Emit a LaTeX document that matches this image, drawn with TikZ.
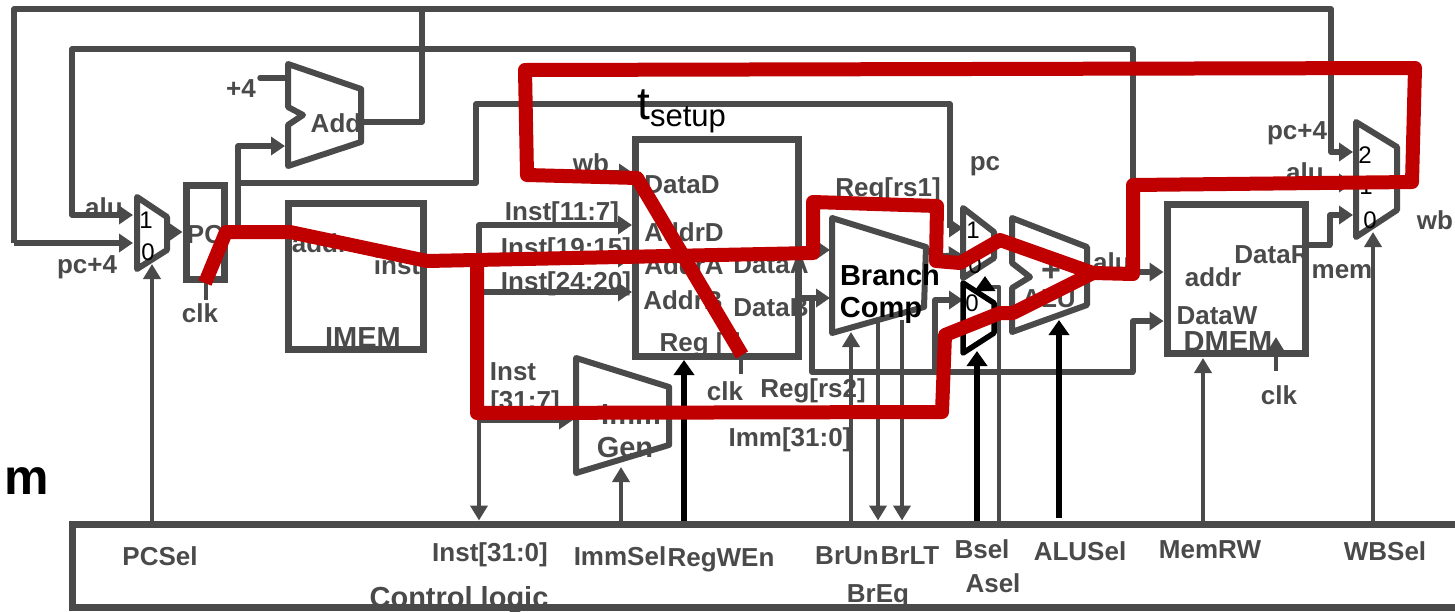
\documentclass[tikz,border=0pt]{standalone}
\usepackage{fontspec}
\setmainfont{Liberation Sans}
\usepackage{xcolor}
\usetikzlibrary{arrows.meta,shadows}
\definecolor{wiregray}{HTML}{4A4A4A}
\definecolor{pathred}{HTML}{C00000}
\tikzset{
  wire/.style={draw=wiregray,line width=5.5pt,line join=round,line cap=round},
  ctlwire/.style={draw=wiregray,line width=4.5pt,line join=round},
  arrowwire/.style={wire,line cap=butt,-{Triangle[length=14pt,width=18pt,fill=wiregray]}},
  ctlarrow/.style={ctlwire,-{Triangle[length=15pt,width=17pt,fill=wiregray]}},
  blackwire/.style={draw=black,line width=5.5pt,-{Triangle[length=15pt,width=20pt,fill=black]}},
  blockbox/.style={draw=wiregray,line width=7pt,inner sep=0pt},
  muxshape/.style={draw=wiregray,fill=white,line width=6pt,line join=round,
    drop shadow={shadow xshift=1.5pt,shadow yshift=-1.5pt,opacity=0.3}},
  redpath/.style={draw=pathred,line width=14pt,line join=round,line cap=butt},
  lab/.style={text=wiregray,font=\fontsize{26}{30}\selectfont\bfseries,inner sep=0pt},
  biglab/.style={text=wiregray,font=\fontsize{29}{32}\selectfont\bfseries,inner sep=0pt},
  blacklab/.style={text=black,font=\fontsize{29}{32}\selectfont\bfseries,inner sep=0pt},
  muxlab/.style={text=black,font=\fontsize{24}{28}\selectfont,inner sep=0pt},
}
\begin{document}
\begin{tikzpicture}[x=1pt,y=-1pt]
  \useasboundingbox (0,0) rectangle (1455,611);
  % pins
  \coordinate (pcin1) at (133,215);
  \coordinate (pcin0) at (133,243);
  \coordinate (pcout) at (167,232);
  \coordinate (pcsel) at (152,264);
  \coordinate (pcq) at (238,227);
  \coordinate (pcclk) at (206,300);
  \coordinate (pcfork) at (238,183);
  \coordinate (addin) at (285,146);
  \coordinate (addfour) at (260,78);
  \coordinate (addin2) at (287,78);
  \coordinate (addout) at (362,122);
  \coordinate (cornerd) at (14,9);
  \coordinate (cornerc) at (72,49);
  \coordinate (cornere) at (1133,49);
  \coordinate (cornerf) at (1331,9);
  \coordinate (addtop) at (422,9);
  \coordinate (instout) at (479,258);
  \coordinate (instup) at (479,225);
  \coordinate (instb) at (479,292);
  \coordinate (instc) at (479,420);
  \coordinate (wbd) at (633,173);
  \coordinate (wbs) at (600,173);
  \coordinate (immin) at (573,420);
  \coordinate (immsel) at (621,467);
  \coordinate (pctop) at (476,104);
  \coordinate (pctopb) at (950,104);
  \coordinate (regclk) at (741,374);
  \coordinate (regwen) at (684,360);
  \coordinate (compa) at (830,250);
  \coordinate (compb) at (830,298);
  \coordinate (compun) at (851,332);
  \coordinate (complt) at (878,320);
  \coordinate (compeq) at (902,320);
  \coordinate (rsfork) at (812,298);
  \coordinate (rsbus) at (812,372);
  \coordinate (rsbusr) at (1133,372);
  \coordinate (rsbusm) at (935,372);
  \coordinate (muxa1) at (963,228);
  \coordinate (muxa0) at (963,255);
  \coordinate (muxas) at (940,256);
  \coordinate (muxb0) at (963,300);
  \coordinate (bsel) at (977,351);
  \coordinate (aselup) at (999,287);
  \coordinate (aselin) at (985,287);
  \coordinate (aseltip) at (985,276);
  \coordinate (aluout) at (1088,272);
  \coordinate (alusel) at (1059,320);
  \coordinate (alubase) at (1059,518);
  \coordinate (dmemw) at (1133,321);
  \coordinate (memsel) at (1203,358);
  \coordinate (dmclka) at (1276,371);
  \coordinate (dmclkb) at (1276,337);
  \coordinate (memout) at (1330,245);
  \coordinate (wbin2) at (1353,152);
  \coordinate (wbin1) at (1353,183);
  \coordinate (wbs1) at (1335,183);
  \coordinate (wbin0) at (1353,215);
  \coordinate (wbsel) at (1373,232);
  % blocks
  \node[biglab] (lctrl) at (459,600) {Control logic};
  \node[blockbox,minimum width=38pt,minimum height=94pt] (pc) at (205,232) {};
  \node[blockbox,minimum width=135pt,minimum height=146pt] (imem) at (356,276) {};
  \node[blockbox,minimum width=163pt,minimum height=217pt] (regs) at (717,248) {};
  \node[blockbox,minimum width=138pt,minimum height=149pt] (dmem) at (1236,279) {};
  \node[blockbox,minimum width=1400pt,minimum height=83pt] (ctrl) at (772,565.5) {};
  % feedback wires
  \draw[arrowwire] (pcin0 -| cornerd) -- (cornerd) -- (cornerf) |- (wbin2);
  \draw[arrowwire] (pcin0 -| cornerd) -- (pcin0);
  \draw[arrowwire] (aluout -| cornere) -- (cornere) -- (cornerc) |- (pcin1);
  \draw[wire] (addout) -| (addtop);
  \draw[wire] (addfour) -- (addin2);
  \draw[arrowwire] (pcout) -- (pc.west);
  \draw[arrowwire] (pcq) |- (addin);
  \draw[arrowwire] (pcfork) -| (pctop) -- (pctopb) |- (muxa1);
  % instruction wires
  \draw[wire] (imem.east |- instout) -- (instout);
  \draw[arrowwire] (instc) -- (instup) -- (regs.west |- instup);
  \draw[arrowwire] (instout) -- (regs.west |- instout);
  \draw[arrowwire] (instb) -- (regs.west |- instb);
  \draw[arrowwire] (instc) -- (immin);
  \draw[ctlarrow] (instc) -- (ctrl.north -| instc);
  \draw[arrowwire] (wbs) -- (wbd);
  \draw[ctlwire] (regs.south -| regclk) -- (regclk);
  \draw[ctlwire] (pc.south -| pcclk) -- (pcclk);
  % register outputs
  \draw[arrowwire] (regs.east |- compa) -- (compa);
  \draw[arrowwire] (regs.east |- compb) -- (compb);
  \draw[wire] (rsfork) -- (rsbus) -- (rsbusr);
  \draw[arrowwire] (rsbusr) |- (dmem.west |- dmemw);
  \draw[arrowwire] (rsbusm) |- (muxb0);
  \draw[arrowwire] (muxas) -- (muxa0);
  \draw[arrowwire] (aluout) -- (dmem.west |- aluout);
  \draw[wire] (dmem.east |- memout) -- (memout);
  \draw[arrowwire] (memout) |- (wbin0);
  \draw[arrowwire] (wbs1) -- (wbin1);
  \draw[ctlarrow] (dmclka) -- (dmclkb);
  % control wires
  \draw[ctlarrow] (ctrl.north -| pcsel) -- (pcsel);
  \draw[ctlarrow] (ctrl.north -| immsel) -- (immsel);
  \draw[ctlarrow] (ctrl.north -| compun) -- (compun);
  \draw[ctlarrow] (complt) -- (ctrl.north -| complt);
  \draw[ctlarrow] (compeq) -- (ctrl.north -| compeq);
  \draw[ctlarrow] (ctrl.north -| memsel) -- (memsel);
  \draw[ctlarrow] (ctrl.north -| wbsel) -- (wbsel);
  \draw[ctlwire] (ctrl.north -| aselup) -- (aselup) -- (aselin);
  % units
  \draw[muxshape] (137,197) -- (167,217) -- (167,250) -- (137,269) -- cycle;
  \draw[muxshape] (288,64) -- (361,89) -- (361,142) -- (288,166) -- (288,125) -- (303,115) -- (288,107) -- cycle;
  \draw[muxshape] (832,218) -- (926,247) -- (924,307) -- (832,333) -- cycle;
  \draw[muxshape] (576,358) -- (669,387) -- (669,445) -- (576,473) -- cycle;
  \draw[muxshape] (963,208) -- (994,232) -- (994,258) -- (963,278) -- cycle;
  \draw[wire,line width=6pt] (1012,218) -- (1087,247) -- (1087,305) -- (1012,332) -- (1012,288) -- (1030,277) -- (1012,263) -- cycle;
  \draw[muxshape] (1356,122) -- (1397,147) -- (1397,210) -- (1356,237) -- cycle;
  \draw[draw=black,line width=5.5pt,line join=round,fill=white] (963,283) -- (994,303) -- (994,333) -- (963,353) -- cycle;
  % black wires
  \draw[blackwire] (ctrl.north -| regwen) -- (regwen);
  \draw[blackwire] (ctrl.north -| bsel) -- (bsel);
  \draw[blackwire] (alubase) -- (alusel);
  \draw[blackwire,line width=4pt] (aselin) -- (aseltip);
  % labels
  \node[muxlab] (pcone) at (146,220) {1};
  \node[muxlab] (pczero) at (148,252) {0};
  \node[muxlab] (aone) at (973,230) {1};
  \node[muxlab] (azero) at (975,265) {0};
  \node[muxlab] (bzero) at (972,303) {0};
  \node[muxlab] (wbtwo) at (1365,155) {2};
  \node[muxlab] (wbone) at (1366,186) {1};
  \node[muxlab] (wbzero) at (1370,220) {0};
  \node[lab] (laluin) at (104,207) {alu};
  \node[lab] (lpcfour) at (87,267) {pc+4};
  \node[lab] (lfour) at (241,89) {+4};
  \node[lab] (ladd) at (336,123) {Add};
  \node[lab] (lpc) at (205,235) {PC};
  \node[lab] (lclka) at (200,313) {clk};
  \node[lab] (laddr) at (320,243) {addr};
  \node[lab] (linst) at (397,265) {inst};
  \node[biglab] (limem) at (363,338) {IMEM};
  \node[lab] (lwb) at (591,163) {wb};
  \node[lab] (lrd) at (562,214) {Inst[11:7]};
  \node[lab] (lrsa) at (566,250) {Inst[19:15]};
  \node[lab] (lrsb) at (566,284) {Inst[24:20]};
  \node[lab] (lins) at (513,372) {Inst};
  \node[lab] (lbits) at (525,403) {[31:7]};
  \node[lab] (ldd) at (682,185) {DataD};
  \node[lab] (lad) at (684,232) {AddrD};
  \node[lab] (laa) at (684,265) {AddrA};
  \node[lab] (lab) at (683,300) {AddrB};
  \node[lab] (lda) at (771,265) {DataA};
  \node[lab] (ldb) at (771,308) {DataB};
  \node[lab] (lreg) at (700,345) {Reg [ ]};
  \node[lab] (lclkb) at (725,391) {clk};
  \node[lab] (lrstwo) at (813,391) {Reg[rs2]};
  \node[lab] (limm) at (790,440) {Imm[31:0]};
  \node[lab] (lrsone) at (888,190) {Reg[rs1]};
  \node[lab] (lpcb) at (985,166) {pc};
  \node[biglab] (limmb) at (631,415) {Imm};
  \node[biglab] (lgen) at (625,448) {Gen};
  \node[blacklab] (lbranch) at (890,275) {Branch};
  \node[blacklab] (lcomp) at (881,310) {Comp};
  \node[lab,font=\fontsize{34}{36}\selectfont\bfseries] (lplus) at (1051,272) {+};
  \node[lab] (lalu) at (1049,299) {ALU};
  \node[lab] (lalub) at (1112,262) {alu};
  \node[lab] (lpcc) at (1297,133) {pc+4};
  \node[lab] (laluc) at (1305,172) {alu};
  \node[lab] (lwbb) at (1435,220) {wb};
  \node[lab] (lmem) at (1342,272) {mem};
  \node[lab] (ldr) at (1272,255) {DataR};
  \node[lab] (laddrb) at (1213,277) {addr};
  \node[lab] (ldw) at (1217,316) {DataW};
  \node[biglab] (ldmem) at (1228,342) {DMEM};
  \node[lab] (lclkc) at (1279,395) {clk};
  \node[lab] (lpcsel) at (160,556) {PCSel};
  \node[lab] (linstall) at (490,555) {Inst[31:0]};
  \node[lab] (limmsel) at (620,556) {ImmSel};
  \node[lab] (lregwen) at (721,560) {RegWEn};
  \node[lab] (lbrun) at (847,556) {BrUn};
  \node[lab] (lbrlt) at (910,556) {BrLT};
  \node[lab] (lbsel) at (982,549) {Bsel};
  \node[lab] (lalusel) at (1080,551) {ALUSel};
  \node[lab] (lmemrw) at (1210,550) {MemRW};
  \node[lab] (lwbsel) at (1385,551) {WBSel};
  \node[lab] (lasel) at (993,583) {Asel};
  \node[lab] (lbreq) at (878,596) {BrEq};
  \node[blacklab,font=\fontsize{50}{52}\selectfont\bfseries] (lm) at (27,481) {m};
  \node[inner sep=0pt,text=black,font=\fontsize{46}{48}\selectfont] (ltee) at (644,105) {t};
  \node[inner sep=0pt,text=black,font=\fontsize{31}{33}\selectfont] (lsetup) at (688,120) {setup};
  % timing path
  \draw[redpath] (205,283) -- (226,232) -- (290,232) -- (427,261) -- (813,253) -- (813,202) -- (937,206) -- (936,261) -- (960,263) -- (1000,240) -- (1093,273) -- (1013,313) -- (1000,313) -- (945,335) -- (942,412) -- (477,413) -- (477,257);
  \draw[redpath] (1093,273) -- (1133,274) -- (1133,185) -- (1412,182) -- (1415,68) -- (525,70) -- (527,175) -- (637,178) -- (742,355);
\end{tikzpicture}
\end{document}
